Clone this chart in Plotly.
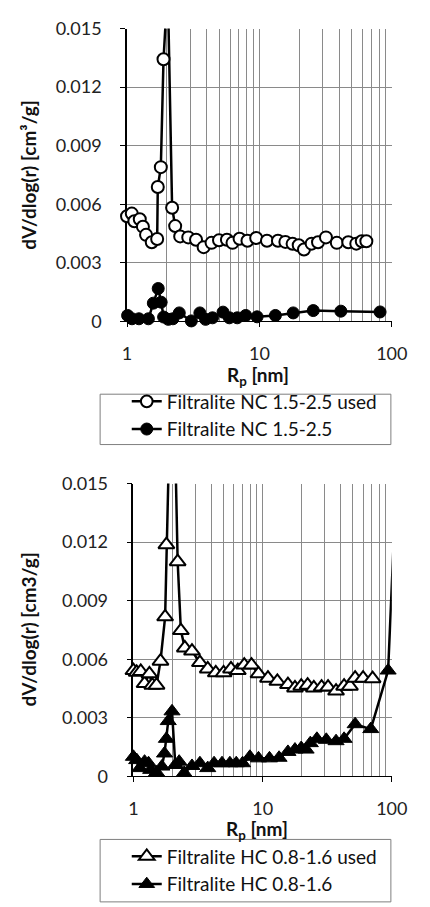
import plotly.graph_objects as go

# ---------------- data ----------------
nc_used_x = [1.00, 1.086, 1.136, 1.248, 1.318, 1.392, 1.537, 1.689, 1.707, 1.80,
             1.886, 2.03, 2.19, 2.31, 2.52, 2.90, 3.32, 3.79, 4.35, 4.95,
             5.68, 6.26, 7.08, 8.12, 9.45, 11.4, 13.8, 15.7, 17.8, 19.8,
             21.7, 24.8, 27.7, 31.8, 38.4, 46.9, 53.9, 59.3, 64.2]
nc_used_y = [0.00538, 0.00552, 0.00513, 0.00523, 0.00485, 0.00443, 0.00405, 0.00422, 0.00688, 0.0079,
             0.01343, 0.0172, 0.00582, 0.00488, 0.00435, 0.0043, 0.00418, 0.0038, 0.00402, 0.00415,
             0.00418, 0.00402, 0.00423, 0.00413, 0.00427, 0.00413, 0.00413, 0.00407, 0.00397, 0.0039,
             0.00368, 0.00398, 0.00405, 0.0043, 0.00402, 0.00405, 0.00398, 0.0041, 0.0041]

nc_x = [1.01, 1.09, 1.23, 1.45, 1.58, 1.72, 1.81, 1.89, 2.05, 2.22, 2.48, 3.06, 3.55,
        3.92, 4.42, 5.31, 5.93, 6.80, 7.88, 9.6, 13.2, 18.0, 25.5, 41.2, 81.5]
nc_y = [0.0003, 0.00013, 0.00013, 0.00013, 0.00093, 0.00168, 0.00098, 0.00022, 0.0001, 0.00013,
        0.00043, 0.00002, 0.00043, 0.0001, 0.00018, 0.00047, 0.00018, 0.00018, 0.0003, 0.00023,
        0.0003, 0.00043, 0.00055, 0.00052, 0.00048]

hc_used_x = [1.0, 1.06, 1.14, 1.22, 1.33, 1.40, 1.51, 1.62, 1.76, 1.80,
             2.0, 2.20, 2.33, 2.50, 2.84, 3.27, 3.76, 4.34, 4.99, 5.69,
             6.43, 7.21, 8.20, 9.29, 11.0, 13.0, 15.7, 17.8, 19.9, 22.3,
             24.9, 28.6, 32.1, 37.0, 42.7, 47.4, 52.0, 59.9, 71.0]
hc_used_y = [0.00542, 0.00533, 0.00537, 0.00475, 0.00525, 0.00467, 0.00467, 0.0059, 0.00817, 0.01187,
             0.024, 0.011, 0.00747, 0.00658, 0.00642, 0.00583, 0.0055, 0.0053, 0.0053, 0.0055,
             0.00542, 0.0057, 0.0057, 0.00525, 0.00503, 0.00487, 0.0047, 0.00453, 0.00462, 0.00467,
             0.00453, 0.00457, 0.00457, 0.00437, 0.00462, 0.00462, 0.00503, 0.00503, 0.005]

hc_x = [1.0, 1.06, 1.12, 1.22, 1.31, 1.36, 1.51, 1.66, 1.74, 1.80,
        1.86, 1.99, 2.11, 2.26, 2.47, 2.84, 3.27, 3.76, 4.21, 4.85,
        5.58, 6.25, 7.0, 7.97, 9.29, 11.3, 13.4, 15.7, 17.8, 19.9,
        21.7, 23.4, 26.3, 31.1, 37.0, 42.7, 52.0, 68.7, 93.6, 110]
hc_y = [0.001, 0.00083, 0.00042, 0.00075, 0.00067, 0.00033, 0.0002, 0.0005, 0.00117, 0.00192,
        0.00283, 0.00333, 0.00058, 0.00075, 0.00017, 0.00053, 0.00067, 0.00042, 0.00067, 0.00067,
        0.00067, 0.00067, 0.00067, 0.001, 0.00092, 0.00092, 0.00095, 0.00125, 0.00137, 0.00145,
        0.00137, 0.0017, 0.00192, 0.00187, 0.0018, 0.00192, 0.00267, 0.00242, 0.00542, 0.0162]

y_tick_vals = [0, 0.003, 0.006, 0.009, 0.012, 0.015]
y_tick_text = ["0", "0.003", "0.006", "0.009", "0.012", "0.015"]
x_tick_vals = [1, 10, 100]
x_tick_text = ["1", "10", "100"]

YMAX = 0.015
XMAX = 100

W, H = 430, 907
FONT = "Lato"
BLACK = "#000000"
GRID = "#8a8a8a"


def px(v, total):
    return v / total


def sizes(xs, ys, s):
    return [0 if (y > YMAX or x > XMAX) else s for x, y in zip(xs, ys)]


fig = go.Figure()

# top panel
fig.add_trace(go.Scatter(
    x=nc_used_x, y=nc_used_y, mode="lines+markers", name="Filtralite NC 1.5-2.5 used",
    line=dict(color=BLACK, width=2.5),
    marker=dict(symbol="circle", size=sizes(nc_used_x, nc_used_y, 12), color="#ffffff",
                opacity=1, line=dict(color=BLACK, width=2)),
    xaxis="x", yaxis="y", legend="legend", cliponaxis=False))
fig.add_trace(go.Scatter(
    x=nc_x, y=nc_y, mode="lines+markers", name="Filtralite NC 1.5-2.5",
    line=dict(color=BLACK, width=2.5),
    marker=dict(symbol="circle", size=sizes(nc_x, nc_y, 12), color=BLACK,
                opacity=1, line=dict(color=BLACK, width=1)),
    xaxis="x", yaxis="y", legend="legend", cliponaxis=False))

# bottom panel
fig.add_trace(go.Scatter(
    x=hc_used_x, y=hc_used_y, mode="lines+markers", name="Filtralite HC 0.8-1.6 used",
    line=dict(color=BLACK, width=2.5),
    marker=dict(symbol="triangle-up", size=sizes(hc_used_x, hc_used_y, 14), color="#ffffff",
                opacity=1, line=dict(color=BLACK, width=2)),
    xaxis="x2", yaxis="y2", legend="legend2", cliponaxis=False))
fig.add_trace(go.Scatter(
    x=hc_x, y=hc_y, mode="lines+markers", name="Filtralite HC 0.8-1.6",
    line=dict(color=BLACK, width=2.5),
    marker=dict(symbol="triangle-up", size=sizes(hc_x, hc_y, 14), color=BLACK,
                opacity=1, line=dict(color=BLACK, width=1)),
    xaxis="x2", yaxis="y2", legend="legend2", cliponaxis=False))

# plot areas (pixel geometry)
top_l, top_r, top_t, top_b = 128.3, 406.7, 17.0, 317.0
bot_l, bot_r, bot_t, bot_b = 135.0, 406.7, 483.3, 783.3

tickfont = dict(family=FONT, size=18, color="#222222")


def xaxis_cfg(l, r, anchor):
    return dict(
        type="log", range=[0, 2], domain=[px(l, W), px(r, W)], anchor=anchor,
        tickvals=x_tick_vals, ticktext=x_tick_text, tickfont=tickfont,
        ticks="outside", ticklen=5, tickcolor=BLACK, ticklabelstandoff=11,
        showgrid=True, gridcolor=GRID, gridwidth=1,
        minor=dict(dtick="D1", showgrid=True, gridcolor=GRID, gridwidth=1, ticks=""),
        showline=True, linecolor=BLACK, linewidth=1, zeroline=False, layer="below traces")


def yaxis_cfg(t, b, anchor):
    return dict(
        range=[0, YMAX], domain=[1 - b / H, 1 - t / H], anchor=anchor,
        tickvals=y_tick_vals, ticktext=y_tick_text, tickfont=tickfont,
        ticks="outside", ticklen=5, tickcolor=BLACK, ticklabelstandoff=15,
        showgrid=True, gridcolor=GRID, gridwidth=1,
        showline=True, linecolor=BLACK, linewidth=1.5, zeroline=False, layer="below traces")


legend_font = dict(family=FONT, size=19, color="#111111")

top_box = (100, 405.7, 391.7, 443.3)
bot_box = (100, 405.7, 848.0, 912.0)

fig.update_layout(
    width=W, height=H, margin=dict(l=0, r=0, t=0, b=0),
    paper_bgcolor="white", plot_bgcolor="white",
    xaxis=xaxis_cfg(top_l, top_r, "y"),
    yaxis=yaxis_cfg(top_t, top_b, "x"),
    xaxis2=xaxis_cfg(bot_l, bot_r, "y2"),
    yaxis2=yaxis_cfg(bot_t, bot_b, "x2"),
    legend=dict(x=px(128, W), y=1 - (top_box[2] - 12) / H, xanchor="left", yanchor="top",
                bgcolor="rgba(0,0,0,0)", borderwidth=0, font=legend_font,
                tracegroupgap=0, itemclick=False),
    legend2=dict(x=px(128, W), y=1 - (bot_box[2] - 2) / H, xanchor="left", yanchor="top",
                 bgcolor="rgba(0,0,0,0)", borderwidth=0, font=legend_font,
                 tracegroupgap=0, itemclick=False),
    showlegend=True,
)

# legend frames
for (x0, x1, t, b) in (top_box, bot_box):
    fig.add_shape(type="rect", xref="paper", yref="paper",
                  x0=px(x0, W), x1=px(x1, W), y0=1 - b / H, y1=1 - t / H,
                  line=dict(color="#7f7f7f", width=1), fillcolor="rgba(0,0,0,0)", layer="below")

title_font = dict(family=FONT, size=19, color="#111111")
ann = [
    dict(text="<b>dV/dlog(r) [cm³/g]</b>", x=px(25, W), y=1 - 167 / H, textangle=-90),
    dict(text="<b>R<sub>p</sub> [nm]</b>", x=px(266, W), y=1 - 373 / H, textangle=0),
    dict(text="<b>dV/dlog(r) [cm3/g]</b>", x=px(25, W), y=1 - 633 / H, textangle=-90),
    dict(text="<b>R<sub>p</sub> [nm]</b>", x=px(265, W), y=1 - 838 / H, textangle=0),
]
for a in ann:
    fig.add_annotation(xref="paper", yref="paper", xanchor="center", yanchor="middle",
                       showarrow=False, font=title_font, **a)

fig.write_html("out.html")
